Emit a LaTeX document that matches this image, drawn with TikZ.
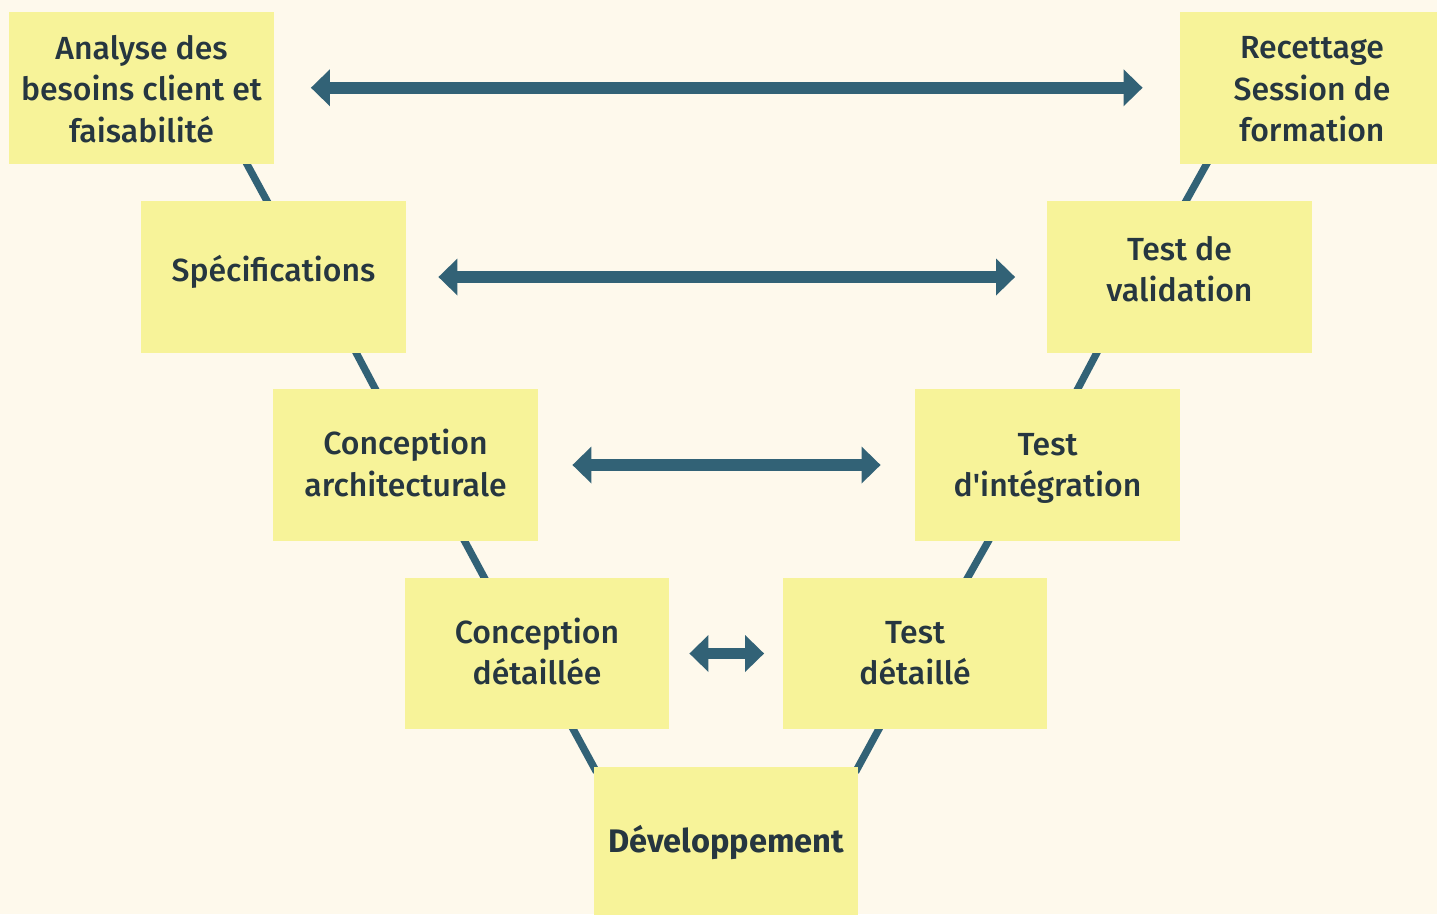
\documentclass[tikz,border=0pt]{standalone}
\usepackage{fontspec}
\newfontfamily\ffmed{Fira Sans}[UprightFont={* Medium},BoldFont={* Bold}]
\usetikzlibrary{arrows.meta,calc}
\definecolor{bgc}{HTML}{FEF9EC}
\definecolor{boxc}{HTML}{F7F399}
\definecolor{ink}{HTML}{263640}
\definecolor{tealc}{HTML}{326276}
\begin{document}
\begin{tikzpicture}[x=1pt,y=-1pt,
  box/.style={fill=boxc, draw=none, minimum width=264.5pt, minimum height=151.5pt, inner sep=0pt, anchor=center},
  lbl/.style={text=ink, font=\ffmed\fontsize{32}{41.5}\selectfont, align=center, inner sep=0pt},
  link/.style={draw=tealc, line width=7.3pt, shorten <=-6pt, shorten >=-6pt},
  dbl/.style={draw=tealc, line width=11.5pt,
    {Triangle[length=19pt,width=37pt,line width=0pt]}-{Triangle[length=19pt,width=37pt,line width=0pt]}}]
\useasboundingbox (0,0) rectangle (1437,914);
\fill[bgc] (0,0) rectangle (1437,914);
\clip (0,0) rectangle (1437,914);
% box positions
\path (141.5,87.75) coordinate (c1) (273.5,277) coordinate (c2) (405.5,465) coordinate (c3)
      (537,653.5) coordinate (c4) (726,842.5) coordinate (c5) (915,653.5) coordinate (c6)
      (1047.5,465) coordinate (c7) (1179.5,277) coordinate (c8) (1312,87.75) coordinate (c9);
\foreach \i in {1,...,9} { \path (c\i) node[box, fill=none] (b\i) {}; }
% links
\draw[link] ($(b1.south west)+(237.7,0)$) -- ($(b2.north west)+(126,0)$);
\draw[link] ($(b2.south west)+(215.2,0)$) -- ($(b3.north west)+(102.3,0)$);
\draw[link] ($(b3.south west)+(191.5,0)$) -- ($(b4.north west)+(79.7,0)$);
\draw[link] ($(b4.south west)+(168.8,0)$) -- (b5.north west);
\draw[link] ($(b6.south east)+(-168.8,0)$) -- (b5.north east);
\draw[link] ($(b7.south east)+(-191.5,0)$) -- ($(b6.north east)+(-79.7,0)$);
\draw[link] ($(b8.south east)+(-215.2,0)$) -- ($(b7.north east)+(-102.3,0)$);
\draw[link] ($(b9.south east)+(-237.7,0)$) -- ($(b8.north east)+(-126,0)$);
% box fills
\foreach \i in {1,...,9} { \fill[boxc] (b\i.south west) rectangle (b\i.north east); }
% texts
\node[lbl] (t1) at ($(b1.center)+(0,1)$) {Analyse des\\besoins client et\\faisabilité};
\node[lbl] (t2) at ($(b2.center)+(0,-5)$) {Spécifications};
\node[lbl] (t3) at ($(b3.center)+(0,-2)$) {Conception\\architecturale};
\node[lbl] (t4) at ($(b4.center)+(0,-2)$) {Conception\\détaillée};
\node[lbl, font=\ffmed\bfseries\fontsize{32.6}{41.5}\selectfont] (t5) at ($(b5.center)+(0,0)$) {Développement};
\node[lbl] (t6) at ($(b6.center)+(0,-0.5)$) {Test\\détaillé};
\node[lbl] (t7) at ($(b7.center)+(0,3.5)$) {Test\\d'intégration};
\node[lbl] (t8) at ($(b8.center)+(0,-8)$) {Test de\\validation};
\node[lbl] (t9) at ($(b9.center)+(0,1.5)$) {Recettage\\Session de\\formation};
% arrows
\draw[dbl] ($(b1.east)+(37,0)$) -- ($(b9.west)+(-37,0)$);
\draw[dbl] ($(b2.east)+(32.5,0)$) -- ($(b8.west)+(-32,0)$);
\draw[dbl] ($(b3.east)+(34.5,0)$) -- ($(b7.west)+(-34.5,0)$);
\draw[dbl] ($(b4.east)+(20,0)$) -- ($(b6.west)+(-18.5,0)$);
\end{tikzpicture}
\end{document}
